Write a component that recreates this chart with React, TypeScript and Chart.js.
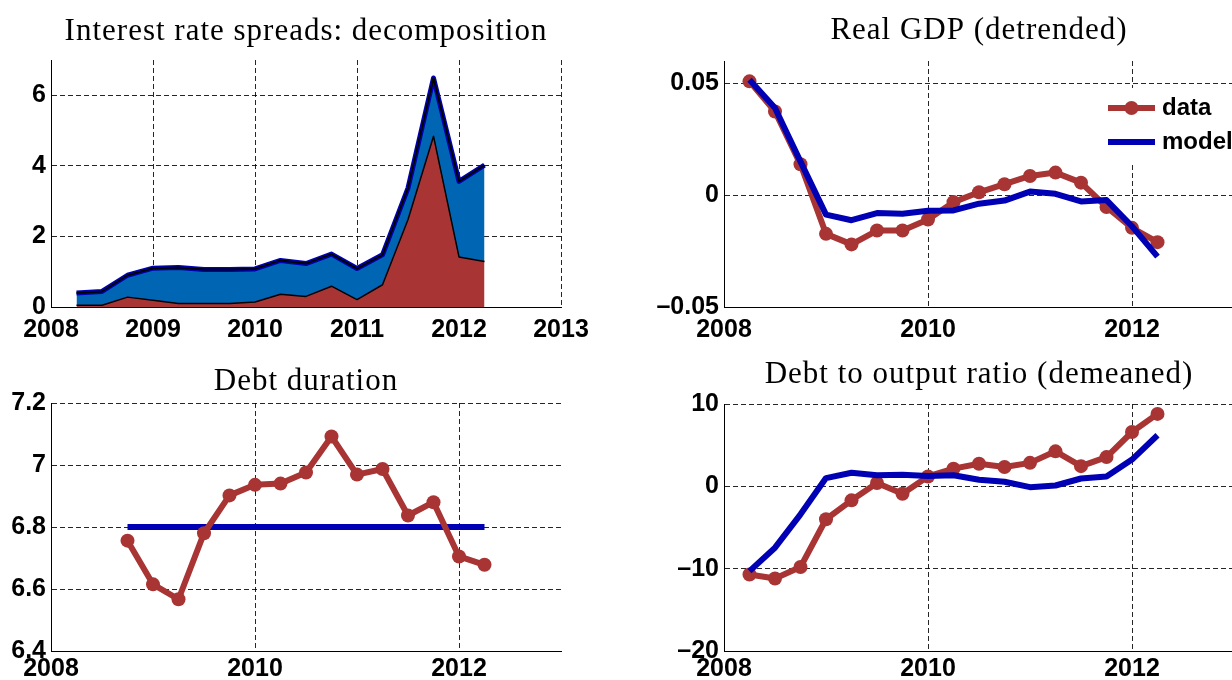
import React, { useEffect, useRef } from 'react';
import { Chart, registerables } from 'chart.js';

Chart.register(...registerables);

// ---------- data ----------
const quarters = [2008.25, 2008.5, 2008.75, 2009, 2009.25, 2009.5, 2009.75, 2010, 2010.25, 2010.5, 2010.75, 2011, 2011.25, 2011.5, 2011.75, 2012, 2012.25];
const durationQuarters = [2008.75, 2009, 2009.25, 2009.5, 2009.75, 2010, 2010.25, 2010.5, 2010.75, 2011, 2011.25, 2011.5, 2011.75, 2012, 2012.25];

// Interest rate spreads: lower (red) component and total (top of blue)
const spreadLower = [0.05, 0.05, 0.28, 0.19, 0.1, 0.1, 0.1, 0.14, 0.36, 0.3, 0.59, 0.21, 0.63, 2.48, 4.84, 1.42, 1.29];
const spreadTotal = [0.4, 0.44, 0.9, 1.1, 1.12, 1.06, 1.06, 1.08, 1.32, 1.23, 1.5, 1.09, 1.48, 3.37, 6.49, 3.56, 4.02];

// Real GDP (detrended)
const gdpData = [0.0509, 0.0374, 0.0138, -0.0173, -0.022, -0.0158, -0.0158, -0.0109, -0.0031, 0.0013, 0.0049, 0.0086, 0.0101, 0.0056, -0.0053, -0.0146, -0.021];
const gdpModel = [0.0516, 0.039, 0.015, -0.0087, -0.0112, -0.008, -0.0083, -0.007, -0.0068, -0.0038, -0.0024, 0.0016, 0.0006, -0.0028, -0.0022, -0.0139, -0.0275];

// Debt duration
const durationData = [6.756, 6.615, 6.567, 6.78, 6.902, 6.936, 6.94, 6.976, 7.092, 6.969, 6.987, 6.837, 6.88, 6.705, 6.678];
const durationModel = [6.8, 6.8, 6.8, 6.8, 6.8, 6.8, 6.8, 6.8, 6.8, 6.8, 6.8, 6.8, 6.8, 6.8, 6.8];

// Debt to output ratio (demeaned)
const debtData = [-10.7, -11.2, -9.8, -4.0, -1.7, 0.4, -0.9, 1.2, 2.15, 2.75, 2.35, 2.85, 4.25, 2.45, 3.55, 6.6, 8.8];
const debtModel = [-10.3, -7.45, -3.4, 1.0, 1.65, 1.35, 1.4, 1.25, 1.35, 0.8, 0.55, -0.1, 0.1, 0.95, 1.2, 3.25, 6.2];

// ticks
const yearlyTicks = [2008, 2009, 2010, 2011, 2012, 2013];
const biennialTicks = [2008, 2010, 2012];
const spreadYTicks = [0, 2, 4, 6];
const gdpYTicks = [-0.05, 0, 0.05];
const durationYTicks = [6.4, 6.6, 6.8, 7, 7.2];
const debtYTicks = [-20, -10, 0, 10];

const legendLabels = ['data', 'model'];
const titles = [
  'Interest rate spreads: decomposition',
  'Real GDP (detrended)',
  'Debt duration',
  'Debt to output ratio (demeaned)',
];

// ---------- styles ----------
const RED = '#A83434';
const BLUE_LINE = '#0000B4';
const BLUE_AREA = '#0066B3';
const TICK_FONT = { family: '"Liberation Sans", Arial, sans-serif', size: 25, weight: 'bold' as const };
const TITLE_FONT = '31px "Liberation Serif", "Times New Roman", serif';

const pts = (xs: number[], ys: number[]) => xs.map((x, i) => ({ x, y: ys[i] }));
const fmt = (v: number) => (v < 0 ? '\u2013' : '') + String(Math.abs(v));

type PanelSpec = {
  left: number; top: number; width: number; height: number;
  areaLeft: number; areaRight: number; areaTop: number; areaBottom: number;
  xMin: number; xMax: number; yMin: number; yMax: number;
  xTicks: number[]; yTicks: number[]; xPad: number;
  title: string; titleBaseline: number;
  datasets: any[];
  legend?: boolean;
};

const lineDs = (xs: number[], ys: number[], color: string, withPoints: boolean) => ({
  data: pts(xs, ys),
  borderColor: color,
  backgroundColor: color,
  borderWidth: 6,
  fill: false,
  pointRadius: withPoints ? 7 : 0,
  pointHoverRadius: withPoints ? 7 : 0,
  pointBorderWidth: 0,
  pointBackgroundColor: color,
});

const panels: PanelSpec[] = [
  {
    left: 0, top: 0, width: 612, height: 340,
    areaLeft: 51, areaRight: 561, areaTop: 60, areaBottom: 307,
    xMin: 2008, xMax: 2013, yMin: 0, yMax: 7,
    xTicks: yearlyTicks, yTicks: spreadYTicks, xPad: 8,
    title: titles[0], titleBaseline: 40,
    datasets: [
      { data: pts(quarters, spreadLower), borderColor: '#000', borderWidth: 1.5, backgroundColor: RED, fill: 'origin', pointRadius: 0 },
      { data: pts(quarters, spreadTotal), borderColor: '#000', borderWidth: 2, backgroundColor: BLUE_AREA, fill: '-1', pointRadius: 0 },
      { data: pts(quarters, spreadTotal), borderColor: BLUE_LINE, borderWidth: 5, fill: false, pointRadius: 0 },
    ],
  },
  {
    left: 620, top: 0, width: 660, height: 340,
    areaLeft: 724, areaRight: 1234, areaTop: 61, areaBottom: 307,
    xMin: 2008, xMax: 2013, yMin: -0.05, yMax: 0.06,
    xTicks: biennialTicks, yTicks: gdpYTicks, xPad: 8,
    title: titles[1], titleBaseline: 38.5,
    legend: true,
    datasets: [
      lineDs(quarters, gdpModel, BLUE_LINE, false),
      lineDs(quarters, gdpData, RED, true),
    ],
  },
  {
    left: 0, top: 340, width: 612, height: 340,
    areaLeft: 51, areaRight: 561, areaTop: 403, areaBottom: 651,
    xMin: 2008, xMax: 2013, yMin: 6.4, yMax: 7.2,
    xTicks: biennialTicks, yTicks: durationYTicks, xPad: 3,
    title: titles[2], titleBaseline: 389.5,
    datasets: [
      lineDs(durationQuarters, durationData, RED, true),
      lineDs(durationQuarters, durationModel, BLUE_LINE, false),
    ],
  },
  {
    left: 620, top: 340, width: 660, height: 340,
    areaLeft: 724, areaRight: 1234, areaTop: 404, areaBottom: 651,
    xMin: 2008, xMax: 2013, yMin: -20, yMax: 10,
    xTicks: biennialTicks, yTicks: debtYTicks, xPad: 3,
    title: titles[3], titleBaseline: 383,
    datasets: [
      lineDs(quarters, debtModel, BLUE_LINE, false),
      lineDs(quarters, debtData, RED, true),
    ],
  },
];

function titlePlugin(spec: PanelSpec) {
  return {
    id: 'panelTitle',
    afterDraw(chart: any) {
      const { ctx, chartArea } = chart;
      ctx.save();
      ctx.font = TITLE_FONT;
      (ctx as any).letterSpacing = '1px';
      ctx.fillStyle = '#000';
      ctx.textAlign = 'center';
      ctx.textBaseline = 'alphabetic';
      ctx.fillText(spec.title, (chartArea.left + chartArea.right) / 2, spec.titleBaseline - spec.top);
      ctx.restore();
    },
  };
}

function legendPlugin() {
  return {
    id: 'panelLegend',
    afterDatasetsDraw(chart: any) {
      const { ctx, chartArea } = chart;
      const r = chartArea.right;
      const t = chartArea.top;
      ctx.save();
      ctx.fillStyle = '#fff';
      ctx.fillRect(r - 139, t + 27, 180, 74);
      const rows = [
        { label: legendLabels[0], color: RED, marker: true, y: t + 47 },
        { label: legendLabels[1], color: BLUE_LINE, marker: false, y: t + 81 },
      ];
      rows.forEach((row) => {
        ctx.strokeStyle = row.color;
        ctx.lineWidth = 6;
        ctx.lineCap = 'butt';
        ctx.beginPath();
        ctx.moveTo(r - 126, row.y);
        ctx.lineTo(r - 79, row.y);
        ctx.stroke();
        if (row.marker) {
          ctx.fillStyle = row.color;
          ctx.beginPath();
          ctx.arc(r - 102.5, row.y, 7, 0, Math.PI * 2);
          ctx.fill();
        }
        ctx.fillStyle = '#000';
        ctx.font = `bold 24px ${TICK_FONT.family}`;
        ctx.textAlign = 'left';
        ctx.textBaseline = 'middle';
        ctx.fillText(row.label, r - 72, row.y);
      });
      ctx.restore();
    },
  };
}

function buildConfig(spec: PanelSpec): any {
  const gridCommon = { color: 'rgba(0,0,0,0.85)', lineWidth: 1, drawTicks: false };
  const borderCommon = { display: true, color: '#000', width: 1, dash: [5, 3] };
  const plugins: any[] = [titlePlugin(spec)];
  if (spec.legend) plugins.push(legendPlugin());
  return {
    type: 'line',
    data: { datasets: spec.datasets },
    plugins,
    options: {
      responsive: false,
      animation: false,
      events: [],
      layout: {
        padding: {
          left: 0,
          top: spec.areaTop - spec.top,
          right: spec.left + spec.width - spec.areaRight,
          bottom: 0,
        },
      },
      elements: {
        line: { tension: 0, borderJoinStyle: 'round', borderCapStyle: 'butt' },
      },
      plugins: {
        legend: { display: false },
        tooltip: { enabled: false },
        title: { display: false },
        filler: { drawTime: 'beforeDatasetsDraw', propagate: false },
      },
      scales: {
        x: {
          type: 'linear',
          min: spec.xMin,
          max: spec.xMax,
          afterBuildTicks: (s: any) => { s.ticks = spec.xTicks.map((v) => ({ value: v })); },
          afterFit: (s: any) => { s.height = spec.top + spec.height - spec.areaBottom; },
          ticks: {
            font: TICK_FONT, color: '#000', padding: spec.xPad,
            maxRotation: 0, minRotation: 0, autoSkip: false,
            callback: (v: number) => String(v),
          },
          grid: gridCommon,
          border: borderCommon,
        },
        y: {
          type: 'linear',
          min: spec.yMin,
          max: spec.yMax,
          afterBuildTicks: (s: any) => { s.ticks = spec.yTicks.map((v) => ({ value: v })); },
          afterFit: (s: any) => { s.width = spec.areaLeft - spec.left; },
          ticks: {
            font: TICK_FONT, color: '#000', padding: 5,
            autoSkip: false,
            callback: (v: number) => fmt(v),
          },
          grid: gridCommon,
          border: borderCommon,
        },
      },
    },
  };
}

function ChartPanel({ spec }: { spec: PanelSpec }) {
  const ref = useRef<HTMLCanvasElement>(null);
  useEffect(() => {
    const chart = new Chart(ref.current as HTMLCanvasElement, buildConfig(spec));
    return () => chart.destroy();
  }, [spec]);
  return (
    <canvas
      ref={ref}
      width={spec.width}
      height={spec.height}
      style={{ position: 'absolute', left: spec.left, top: spec.top, width: spec.width, height: spec.height }}
    />
  );
}

export default function App() {
  return (
    <div
      style={{
        position: 'fixed', left: 0, top: 0, width: 1232, height: 680,
        overflow: 'hidden', background: '#fff',
      }}
    >
      {panels.map((p, i) => (
        <ChartPanel key={i} spec={p} />
      ))}
    </div>
  );
}
